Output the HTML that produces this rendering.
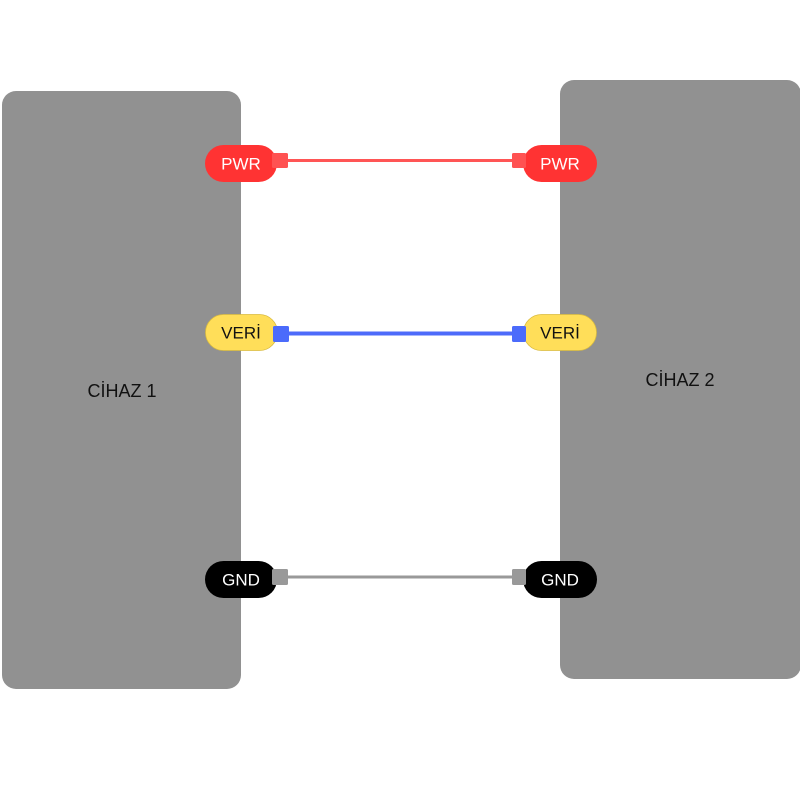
<!DOCTYPE html>
<html><head><meta charset="utf-8"><style>
html,body{margin:0;padding:0;background:#fff;}
svg{display:block;}
text{font-family:"Liberation Sans",sans-serif;}
</style></head><body>
<svg width="800" height="800" viewBox="0 0 800 800" xmlns="http://www.w3.org/2000/svg">
<rect x="2" y="91" width="239" height="598" rx="14" fill="#919191"/>
<rect x="560" y="80" width="241" height="599" rx="14" fill="#919191"/>
<text x="122" y="397" font-size="18" text-anchor="middle" fill="#111">CİHAZ 1</text>
<text x="680" y="386" font-size="18" text-anchor="middle" fill="#111">CİHAZ 2</text>

<!-- PWR -->
<line x1="286" y1="160.5" x2="514" y2="160.5" stroke="#ff5555" stroke-width="3"/>
<rect x="205" y="145" width="72" height="37" rx="18.5" fill="#ff3333"/>
<rect x="523" y="145" width="74" height="37" rx="18.5" fill="#ff3333"/>
<rect x="272" y="153" width="16" height="15" rx="1.5" fill="#ff5252"/>
<rect x="512" y="153" width="14" height="15" rx="1.5" fill="#ff5252"/>
<text x="241" y="169.5" font-size="17" text-anchor="middle" fill="#fff">PWR</text>
<text x="560" y="169.5" font-size="17" text-anchor="middle" fill="#fff">PWR</text>

<!-- VERİ -->
<line x1="286" y1="333.5" x2="514" y2="333.5" stroke="#4d6bfa" stroke-width="4"/>
<rect x="205.5" y="314.5" width="72" height="36" rx="18" fill="#ffde59" stroke="#d9bb40" stroke-width="0.8"/>
<rect x="523.5" y="314.5" width="73" height="36" rx="18" fill="#ffde59" stroke="#d9bb40" stroke-width="0.8"/>
<rect x="273" y="326" width="16" height="16" rx="1.5" fill="#4b6bfb"/>
<rect x="512" y="326" width="14" height="16" rx="1.5" fill="#4b6bfb"/>
<text x="241" y="338.5" font-size="17" text-anchor="middle" fill="#111">VERİ</text>
<text x="560" y="338.5" font-size="17" text-anchor="middle" fill="#111">VERİ</text>

<!-- GND -->
<line x1="286" y1="577" x2="514" y2="577" stroke="#999999" stroke-width="3"/>
<rect x="205" y="561" width="72" height="37" rx="18.5" fill="#000"/>
<rect x="523" y="561" width="74" height="37" rx="18.5" fill="#000"/>
<rect x="272" y="569" width="16" height="16" rx="1.5" fill="#999999"/>
<rect x="512" y="569" width="14" height="16" rx="1.5" fill="#999999"/>
<text x="241" y="585.5" font-size="17" text-anchor="middle" fill="#fff">GND</text>
<text x="560" y="585.5" font-size="17" text-anchor="middle" fill="#fff">GND</text>
</svg>
</body></html>
